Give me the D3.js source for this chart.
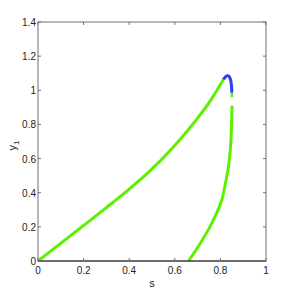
<!DOCTYPE html>
<html>
<head>
<meta charset="utf-8">
<script src="https://cdn.jsdelivr.net/npm/d3@7"></script>
<style>
  body { margin: 0; background: #fff; }
  svg { display: block; font-family: "Liberation Sans", Arial, sans-serif; }
</style>
</head>
<body>
<svg id="chart" width="294" height="294"></svg>
<script>
// solution branch (s, y1)
const upperS = [0, 0.1, 0.2, 0.3, 0.4, 0.49, 0.586, 0.71, 0.76, 0.813]
const upperY = [0, 0.104, 0.208, 0.313, 0.421, 0.526, 0.656, 0.854, 0.947, 1.063]

const turnS = [0.813, 0.822, 0.83, 0.838, 0.845, 0.849, 0.85]
const turnY = [1.063, 1.079, 1.085, 1.082, 1.06, 1.02, 0.985]

const stubS = [0.85, 0.851]
const stubY = [0.985, 0.96]

const lowerS = [0.851, 0.849, 0.845, 0.835, 0.82, 0.806, 0.78, 0.754, 0.71, 0.66]
const lowerY = [0.91, 0.8, 0.68, 0.55, 0.44, 0.357, 0.27, 0.2, 0.1, 0]

const xTicks = [0, 0.2, 0.4, 0.6, 0.8, 1]
const yTicks = [0, 0.2, 0.4, 0.6, 0.8, 1, 1.2, 1.4]

const green = '#5ff000', blue = '#2b3ff2'

const svg = d3.select('#chart')
const m = {left: 38, right: 28, top: 22, bottom: 33}
const W = 294, H = 294

const x = d3.scaleLinear().domain([0, 1]).range([m.left, W - m.right])
const y = d3.scaleLinear().domain([0, 1.4]).range([H - m.bottom, m.top])

const line = d3.line().x(d => x(d[0])).y(d => y(d[1])).curve(d3.curveMonotoneX)
const lineY = d3.line().x(d => x(d[0])).y(d => y(d[1])).curve(d3.curveMonotoneY)
const zip = (a, b) => a.map((v, i) => [v, b[i]])

const plot = svg.append('g')
plot.append('path').datum(zip(upperS, upperY)).attr('d', line)
    .attr('fill', 'none').attr('stroke', green).attr('stroke-width', 3)
plot.append('path').datum(zip(turnS, turnY)).attr('d', d3.line().x(d => x(d[0])).y(d => y(d[1])).curve(d3.curveCatmullRom))
    .attr('fill', 'none').attr('stroke', blue).attr('stroke-width', 3)
plot.append('path').datum(zip(stubS, stubY)).attr('d', line)
    .attr('fill', 'none').attr('stroke', green).attr('stroke-width', 2.5)
plot.append('path').datum(zip(lowerS, lowerY)).attr('d', lineY)
    .attr('fill', 'none').attr('stroke', green).attr('stroke-width', 3)

// box + ticks
const axisCol = '#707070'
svg.append('rect')
    .attr('x', x(0)).attr('y', y(1.4))
    .attr('width', x(1) - x(0)).attr('height', y(0) - y(1.4))
    .attr('fill', 'none').attr('stroke', axisCol).attr('stroke-width', 1)
svg.append('line')
    .attr('x1', x(0)).attr('x2', x(1)).attr('y1', y(0)).attr('y2', y(0))
    .attr('stroke', '#222').attr('stroke-width', 1.2)

const axes = svg.append('g').attr('font-size', 10).attr('fill', '#222')

xTicks.forEach(t => {
    axes.append('line').attr('x1', x(t)).attr('x2', x(t)).attr('y1', y(0)).attr('y2', y(0) - 3).attr('stroke', axisCol)
    axes.append('line').attr('x1', x(t)).attr('x2', x(t)).attr('y1', y(1.4)).attr('y2', y(1.4) + 3).attr('stroke', axisCol)
    axes.append('text').attr('x', x(t)).attr('y', y(0) + 13)
        .attr('text-anchor', 'middle').text(t)
})

yTicks.forEach(t => {
    axes.append('line').attr('x1', x(0)).attr('x2', x(0) + 3).attr('y1', y(t)).attr('y2', y(t)).attr('stroke', axisCol)
    axes.append('line').attr('x1', x(1)).attr('x2', x(1) - 3).attr('y1', y(t)).attr('y2', y(t)).attr('stroke', axisCol)
    axes.append('text').attr('x', x(0) - 2).attr('y', y(t) + 4)
        .attr('text-anchor', 'end').text(t)
})

axes.append('text').attr('x', (x(0) + x(1)) / 2).attr('y', 287)
    .attr('text-anchor', 'middle').attr('font-size', 11).text('s')

const yl = axes.append('text').attr('transform', `translate(16,${(y(0) + y(1.4)) / 2 + 4}) rotate(-90)`)
    .attr('text-anchor', 'middle').attr('font-size', 11)
yl.append('tspan').text('y')
yl.append('tspan').attr('font-size', 8).attr('dy', 3).text('1')
</script>
</body>
</html>
